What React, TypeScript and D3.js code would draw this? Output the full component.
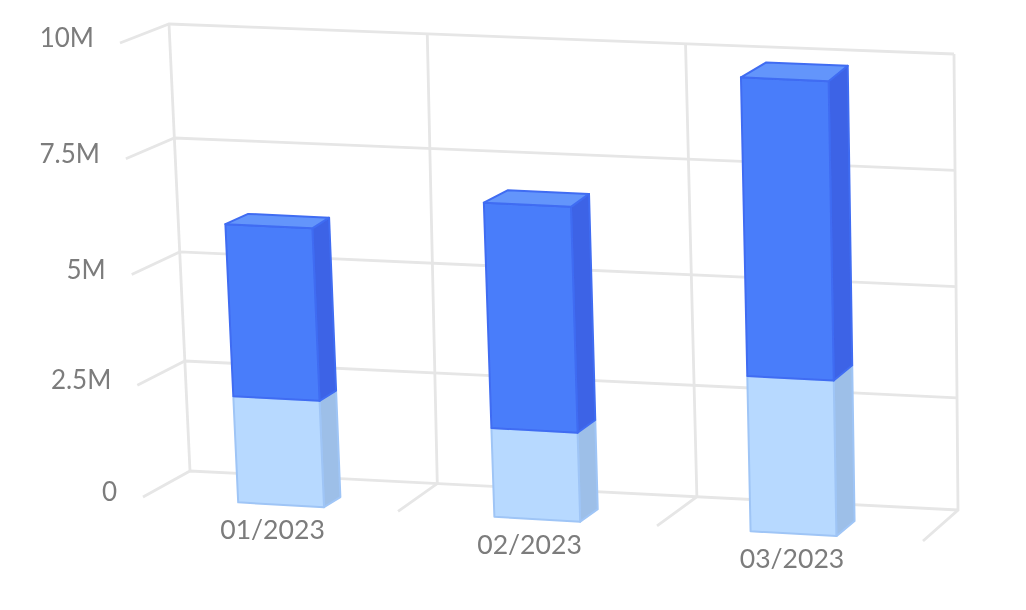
import { line, scaleBand, scaleLinear, stack } from "d3";

const WIDTH = 1026;
const HEIGHT = 610;

const CATEGORIES = ["01/2023", "02/2023", "03/2023"];
const LOWER_VALUES = [2370000, 1970000, 3430000];
const UPPER_VALUES = [3820000, 4950000, 6420000];
const Y_TICKS = [0, 2500000, 5000000, 7500000, 10000000];
const Y_LABELS = ["0", "2.5M", "5M", "7.5M", "10M"];

// corners of the chart box on screen: [x, y]
const FRONT_BOTTOM = [[143, 497], [923, 541]];
const FRONT_TOP = [[120, 43], [917, 78]];
const BACK_BOTTOM = [[190, 471], [958, 510]];
const BACK_TOP = [[169, 24], [954, 54]];

const GRID = "#e6e6e6";
const LABEL = "#7c7c7c";
// the bars have their own slight perspective: back face narrower and a bit higher
const BAR_TAPER = 0.007;
const BAR_LIFT = 1.008;

const SEGMENTS = [
  { front: "#b7d9ff", side: "#9dbfe8", top: "#b7d9ff", stroke: "#9fc5f6" },
  { front: "#4a7dfa", side: "#3e63e6", top: "#6395fb", stroke: "#3f6cf2" },
];

const rows = CATEGORIES.map((category, index) => ({
  category,
  lower: LOWER_VALUES[index],
  upper: UPPER_VALUES[index],
}));
const series = stack<{ category: string; lower: number; upper: number }>().keys(["lower", "upper"])(rows);

const mix = (a: number, b: number, t: number) => a + (b - a) * t;

// trilinear position inside the box: u across, v up, w into the page
function project(u: number, v: number, w: number): [number, number] {
  const corner = (i: number) => {
    const frontVal = mix(mix(FRONT_BOTTOM[0][i], FRONT_BOTTOM[1][i], u), mix(FRONT_TOP[0][i], FRONT_TOP[1][i], u), v);
    const backVal = mix(mix(BACK_BOTTOM[0][i], BACK_BOTTOM[1][i], u), mix(BACK_TOP[0][i], BACK_TOP[1][i], u), v);
    return mix(frontVal, backVal, w);
  };
  return [corner(0), corner(1)];
}

const CELLS = [0, 1, 2, 3];
const yScale = scaleLinear().domain(Y_TICKS).range([0, 0.246, 0.49, 0.745, 1]);
const cellFront = scaleLinear().domain(CELLS).range([0, 0.327, 0.659, 1]);
const cellBackBottom = scaleLinear().domain(CELLS).range([0, 0.322, 0.66, 1]);
const cellBackTop = scaleLinear().domain(CELLS).range([0, 0.329, 0.658, 1]);
const barScale = scaleBand<string>()
  .domain(CATEGORIES)
  .range([0.012, 0.999])
  .paddingInner(0.665)
  .paddingOuter(0.335);
// depth of a bar, in box units: the box gets shallower to the right, the bars do not
const depthScale = scaleLinear().domain([0.23, 0.89]).range([0.37, 0.5]);

const poly = line().x((d) => d[0]).y((d) => d[1]);
const closed = (points: [number, number][]) => (poly(points) ?? "") + "Z";

const FONT = "Lato, 'Open Sans', sans-serif";

export default function App() {
  return (
    <svg
      width={WIDTH}
      height={HEIGHT}
      viewBox={`0 0 ${WIDTH} ${HEIGHT}`}
      style={{ position: "absolute", left: 0, top: 0, background: "#fff" }}
    >
      <defs>
        <filter id="soft" x="-5%" y="-5%" width="110%" height="110%">
          <feGaussianBlur stdDeviation={0.5} />
        </filter>
      </defs>
      <g filter="url(#soft)">
        <g fill="none" stroke={GRID} strokeWidth={2.8}>
          {Y_TICKS.map((tick) => {
            const v = yScale(tick);
            return (
              <path
                key={tick}
                d={poly([project(0, v, 0), project(0, v, 1), project(1, v, 1)]) ?? ""}
              />
            );
          })}
          {CELLS.map((cell) => (
            <path
              key={cell}
              d={
                poly(
                  cell === 0
                    ? [project(cellBackTop(cell), 1, 1), project(cellBackBottom(cell), 0, 1)]
                    : [project(cellBackTop(cell), 1, 1), project(cellBackBottom(cell), 0, 1), project(cellFront(cell), 0, 0)]
                ) ?? ""
              }
            />
          ))}
        </g>

        {CATEGORIES.map((category, index) => {
          const u0 = barScale(category) ?? 0;
          const u1 = u0 + barScale.bandwidth();
          const backU0 = u0 + BAR_TAPER;
          const depth = depthScale(u1);
          return (
            <g key={category} strokeWidth={2} strokeLinejoin="round">
              {series.map((layer, layerIndex) => {
                const style = SEGMENTS[layerIndex];
                const v0 = yScale(layer[index][0]);
                const v1 = yScale(layer[index][1]);
                return (
                  <g key={layer.key} stroke={style.stroke}>
                    <path
                      fill={style.side}
                      d={closed([
                        project(u1, v0, 0),
                        project(u1, v0 * BAR_LIFT, depth),
                        project(u1, v1 * BAR_LIFT, depth),
                        project(u1, v1, 0),
                      ])}
                    />
                    <path
                      fill={style.front}
                      d={closed([project(u0, v0, 0), project(u1, v0, 0), project(u1, v1, 0), project(u0, v1, 0)])}
                    />
                    {layerIndex === series.length - 1 && (
                      <path
                        fill={style.top}
                        d={closed([
                          project(u0, v1, 0),
                          project(u1, v1, 0),
                          project(u1, v1 * BAR_LIFT, depth),
                          project(backU0, v1 * BAR_LIFT, depth),
                        ])}
                      />
                    )}
                  </g>
                );
              })}
            </g>
          );
        })}

        <g fill={LABEL} fontFamily={FONT} fontSize={26}>
          {Y_TICKS.map((tick, index) => {
            const [x, y] = project(0, yScale(tick), 0);
            return (
              <text key={tick} x={x - 26} y={y - 6} textAnchor="end" dominantBaseline="central">
                {Y_LABELS[index]}
              </text>
            );
          })}
        </g>
        <g fill={LABEL} fontFamily={FONT} fontSize={26.6}>
          {CATEGORIES.map((category, index) => {
            const [x, y] = project(cellFront(index + 0.5), 0, 0);
            return (
              <text key={category} x={x + 2} y={y + 25} textAnchor="middle" dominantBaseline="central">
                {category}
              </text>
            );
          })}
        </g>
      </g>
    </svg>
  );
}
